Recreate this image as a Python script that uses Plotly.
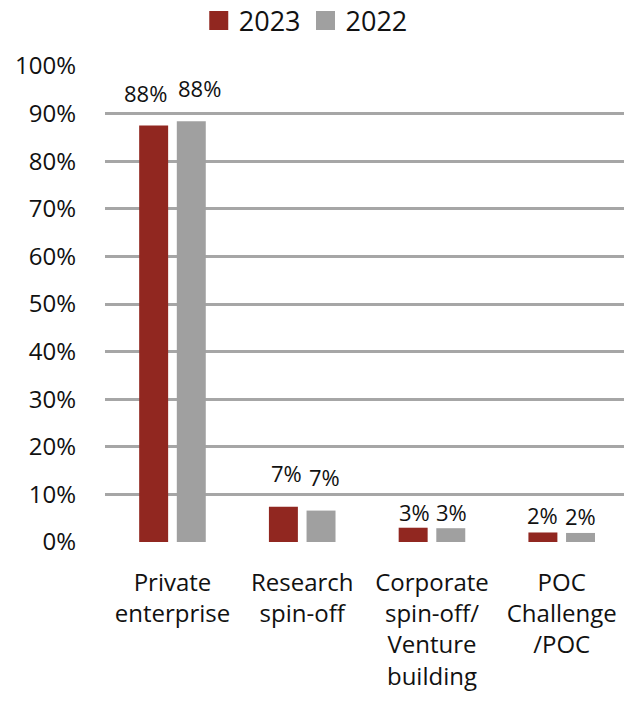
import plotly.graph_objects as go

categories = [
    "Private<br>enterprise",
    "Research<br>spin-off",
    "Corporate<br>spin-off/<br>Venture<br>building",
    "POC<br>Challenge<br>/POC",
]
share_2023 = [87.5, 7.4, 3.0, 2.0]
share_2022 = [88.4, 6.6, 2.9, 1.9]
y_ticks = list(range(0, 101, 10))
y_tick_labels = [f"{v}%" for v in y_ticks]

RED = "#912720"
GREY = "#A0A0A0"
INK = "#111111"
FONT = "Open Sans"

BARGAP = 0.42
# centre of each series' bar relative to its category, in category units
SLOT = (1 - BARGAP) / 2
series = [
    ("2023", share_2023, RED, -SLOT / 2),
    ("2022", share_2022, GREY, SLOT / 2),
]

# vertical lift of the value labels above the bar tops, per category (px)
label_lift = [16, 17, -1, 0]
# extra sideways spread for wide labels that would otherwise touch (px)
label_spread = [8, 0, 0, 0]
# small sideways nudge applied to both labels of a category (px)
label_nudge = [0, 3, 1, 0]

fig = go.Figure()

annotations = []
for name, values, color, offset in series:
    fig.add_trace(go.Bar(
        x=categories,
        y=values,
        name=name,
        marker=dict(color=color, line=dict(width=0)),
        showlegend=False,
        hovertemplate="%{y:.1f}%<extra>" + name + "</extra>",
    ))
    sign = -1 if offset < 0 else 1
    for i, v in enumerate(values):
        annotations.append(dict(
            x=i + offset, y=v, xref="x", yref="y",
            text=f"{v:.0f}%",
            showarrow=False,
            xanchor="center", yanchor="bottom",
            xshift=sign * label_spread[i] + label_nudge[i],
            yshift=label_lift[i],
            font=dict(family=FONT, size=22, color=INK),
        ))

# legend swatches drawn as larger squares than the default bar icon
for name, values, color, _ in series:
    fig.add_trace(go.Scatter(
        x=[None], y=[None], mode="markers", name=name,
        marker=dict(symbol="square", size=16, color=color,
                    line=dict(color=color, width=3)),
    ))

fig.update_layout(
    width=624,
    height=706,
    margin=dict(l=105, r=0, t=66, b=164),
    paper_bgcolor="white",
    plot_bgcolor="white",
    font=dict(family=FONT, color=INK),
    barmode="group",
    bargap=BARGAP,
    bargroupgap=0.23,
    annotations=annotations,
    legend=dict(
        orientation="h",
        xref="container", yref="container",
        x=0.49, xanchor="center",
        y=1 - 21 / 706, yanchor="middle",
        font=dict(family=FONT, size=27, color=INK),
        itemwidth=30,
        bgcolor="rgba(0,0,0,0)",
    ),
)

fig.update_xaxes(
    range=[-0.52, 3.48],
    showgrid=False,
    showline=False,
    ticks="",
    tickfont=dict(family=FONT, size=24, color=INK),
    ticklabelstandoff=24,
)

fig.update_yaxes(
    range=[0, 100],
    tickvals=y_ticks,
    ticktext=y_tick_labels,
    showgrid=True,
    gridcolor="#A6A6A6",
    gridwidth=3,
    zeroline=False,
    showline=False,
    ticks="",
    tickfont=dict(family=FONT, size=24, color=INK),
    ticklabelstandoff=28,
)

fig.write_html("out.html")
